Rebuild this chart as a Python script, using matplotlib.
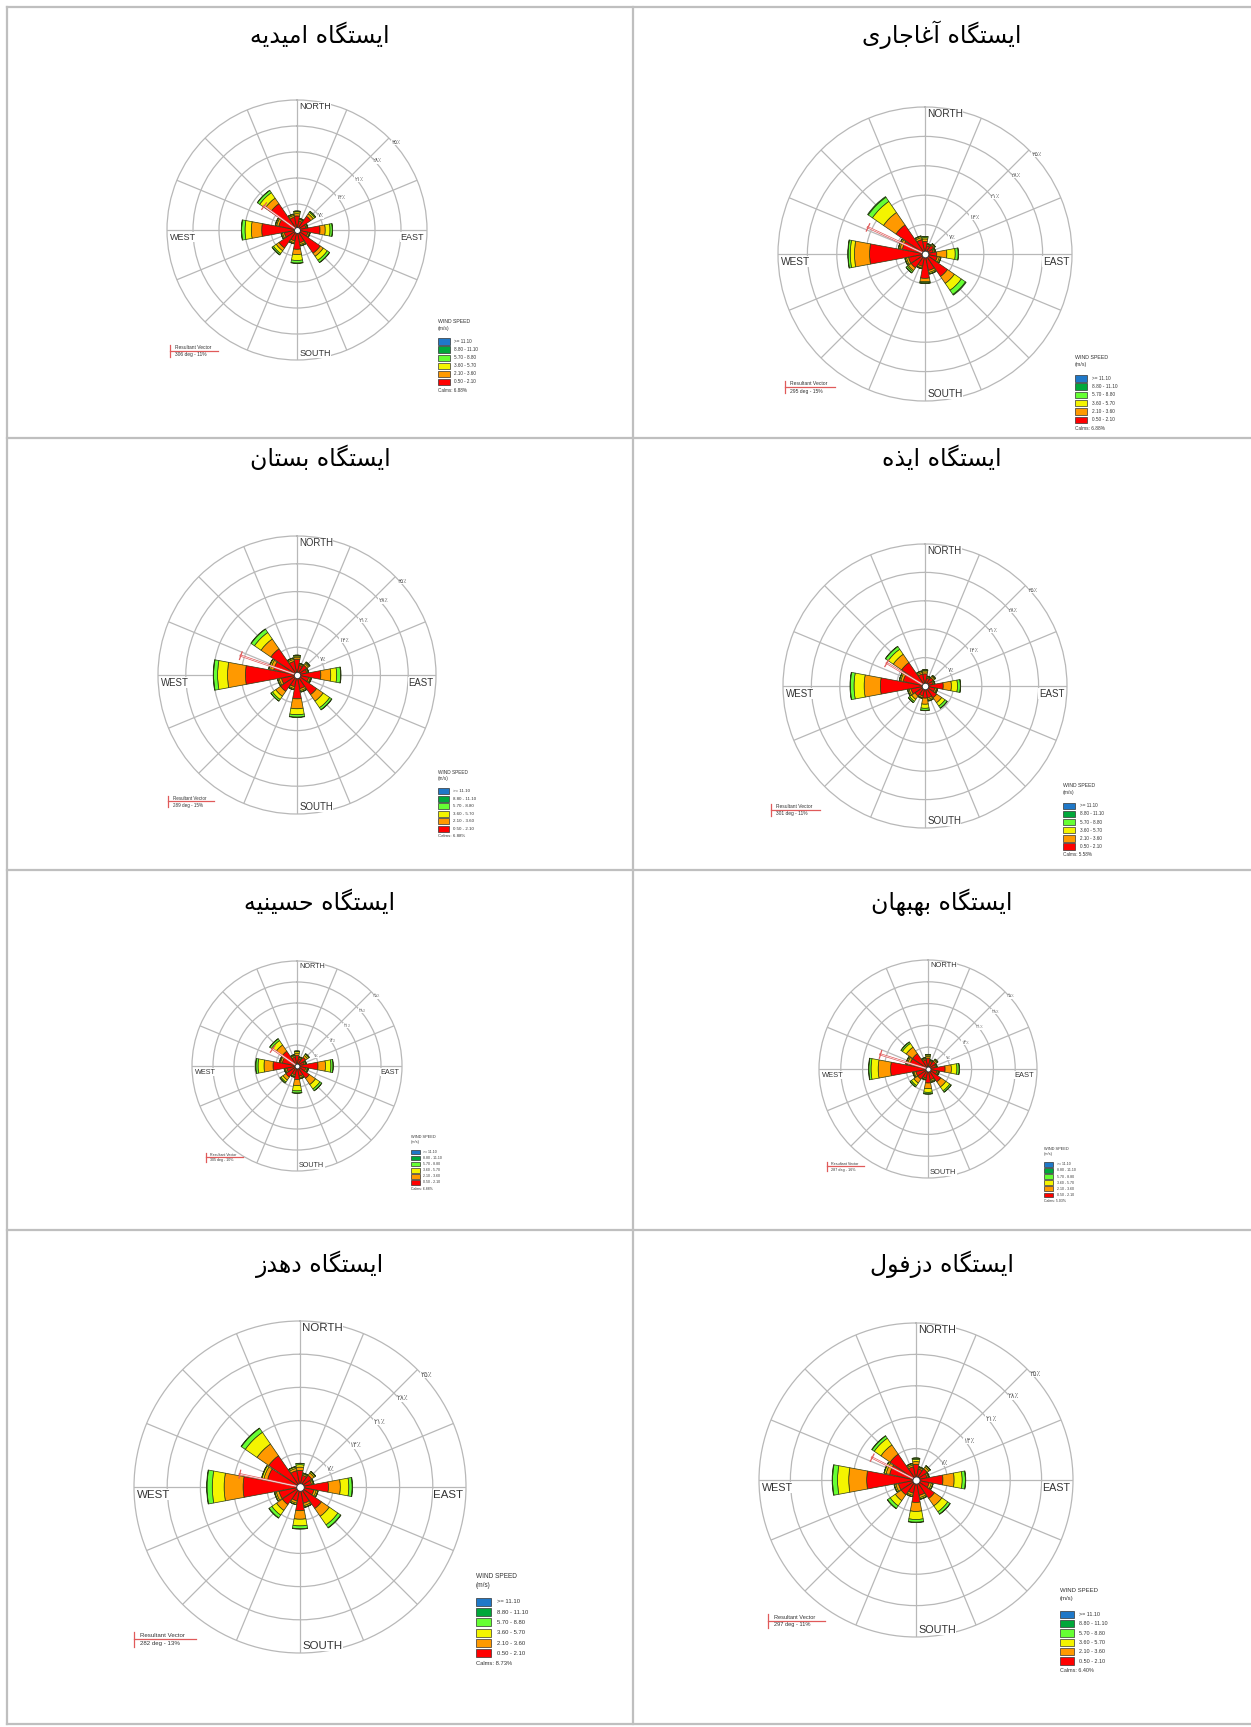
import numpy as np
import matplotlib
matplotlib.use('Agg')
import matplotlib.pyplot as plt
from matplotlib.patches import Rectangle
from matplotlib.lines import Line2D

W, H = 1251, 1727

# station names (read right-to-left, row by row)
stations = ['آغاجاری', 'امیدیه', 'ایذه', 'بستان', 'بهبهان', 'حسینیه', 'دزفول', 'دهدز']

directions = ['N', 'NNE', 'NE', 'ENE', 'E', 'ESE', 'SE', 'SSE',
              'S', 'SSW', 'SW', 'WSW', 'W', 'WNW', 'NW', 'NNW']
speed_classes = ['0.50 - 2.10', '2.10 - 3.60', '3.60 - 5.70', '5.70 - 8.80', '8.80 - 11.10', '>= 11.10']

# frequency (%) per direction: [0.5-2.1, 2.1-3.6, 3.6-5.7, 5.7-8.8, 8.8-11.1]
aghajari = [[3.0, 0.6, 0.3, 0.3, 0.0], [2.0, 0.3, 0.2, 0.0, 0.0], [2.5, 0.3, 0.2, 0.0, 0.0], [2.0, 0.3, 0.2, 0.1, 0.0],
            [2.8, 2.4, 2.0, 0.7, 0.1], [3.0, 0.5, 0.3, 0.1, 0.0], [6.5, 2.0, 2.0, 1.2, 0.2], [4.0, 0.5, 0.3, 0.1, 0.0],
            [5.8, 0.8, 0.2, 0.2, 0.0], [3.0, 0.4, 0.2, 0.0, 0.0], [4.0, 0.8, 0.3, 0.4, 0.0], [4.0, 0.5, 0.3, 0.1, 0.0],
            [13.2, 3.6, 1.0, 0.5, 0.1], [5.5, 0.6, 0.3, 0.1, 0.0], [8.4, 3.6, 3.2, 1.2, 0.2], [3.5, 0.5, 0.3, 0.1, 0.0]]
omidiyeh = [[3.8, 0.6, 0.5, 0.2, 0.0], [2.5, 0.4, 0.2, 0.1, 0.0], [4.5, 0.8, 0.5, 0.3, 0.0], [2.5, 0.3, 0.2, 0.0, 0.0],
            [6.2, 1.4, 1.3, 0.6, 0.1], [3.0, 0.4, 0.2, 0.0, 0.0], [7.6, 1.0, 1.3, 0.7, 0.1], [3.5, 0.5, 0.3, 0.1, 0.0],
            [5.2, 1.4, 1.6, 0.7, 0.1], [3.0, 0.5, 0.3, 0.0, 0.0], [5.9, 0.9, 0.9, 0.4, 0.1], [3.5, 0.5, 0.3, 0.1, 0.0],
            [9.5, 2.8, 1.7, 0.9, 0.1], [5.0, 0.6, 0.3, 0.1, 0.0], [8.6, 1.8, 1.8, 0.7, 0.1], [3.5, 0.5, 0.3, 0.1, 0.0]]
izeh = [[3.0, 0.5, 0.3, 0.2, 0.0], [2.0, 0.3, 0.2, 0.0, 0.0], [2.5, 0.4, 0.2, 0.1, 0.0], [2.0, 0.3, 0.2, 0.0, 0.0],
        [4.5, 2.0, 1.5, 0.7, 0.1], [2.5, 0.4, 0.2, 0.1, 0.0], [3.5, 1.5, 1.0, 0.6, 0.1], [3.0, 0.4, 0.3, 0.1, 0.0],
        [3.0, 1.5, 1.0, 0.5, 0.1], [2.5, 0.4, 0.2, 0.0, 0.0], [3.0, 1.0, 0.6, 0.4, 0.0], [3.5, 0.5, 0.3, 0.1, 0.0],
        [11.0, 4.0, 2.5, 0.9, 0.1], [5.5, 0.6, 0.3, 0.1, 0.0], [7.0, 2.5, 1.5, 0.8, 0.1], [3.0, 0.4, 0.3, 0.1, 0.0]]
bostan = [[4.0, 0.5, 0.3, 0.2, 0.0], [2.5, 0.3, 0.2, 0.0, 0.0], [3.0, 0.5, 0.3, 0.2, 0.0], [2.5, 0.3, 0.2, 0.0, 0.0],
          [6.0, 2.5, 1.5, 1.0, 0.1], [3.0, 0.4, 0.2, 0.1, 0.0], [6.0, 2.0, 2.0, 0.6, 0.1], [3.5, 0.5, 0.3, 0.1, 0.0],
          [6.0, 2.5, 1.5, 0.6, 0.1], [3.0, 0.5, 0.3, 0.0, 0.0], [5.0, 1.5, 1.0, 0.5, 0.0], [4.0, 0.6, 0.3, 0.1, 0.0],
          [13.0, 4.5, 2.5, 1.0, 0.1], [6.0, 0.8, 0.4, 0.1, 0.0], [8.0, 3.0, 2.0, 1.0, 0.1], [3.5, 0.5, 0.3, 0.1, 0.0]]
behbahan = [[3.5, 0.6, 0.4, 0.2, 0.0], [2.5, 0.3, 0.2, 0.0, 0.0], [3.0, 0.5, 0.3, 0.1, 0.0], [2.5, 0.3, 0.2, 0.0, 0.0],
            [5.5, 2.0, 1.8, 0.7, 0.1], [3.0, 0.4, 0.2, 0.1, 0.0], [5.0, 2.0, 1.5, 0.5, 0.1], [3.5, 0.5, 0.3, 0.1, 0.0],
            [4.5, 1.8, 1.2, 0.5, 0.1], [3.0, 0.4, 0.2, 0.0, 0.0], [4.0, 1.5, 1.0, 0.5, 0.0], [4.0, 0.6, 0.3, 0.1, 0.0],
            [12.0, 4.0, 2.3, 0.7, 0.1], [6.0, 0.8, 0.4, 0.1, 0.0], [6.0, 2.5, 1.5, 0.5, 0.1], [3.0, 0.4, 0.3, 0.1, 0.0]]
hosseinieh = [[3.5, 0.8, 0.5, 0.2, 0.0], [2.5, 0.4, 0.2, 0.0, 0.0], [3.5, 0.8, 0.5, 0.2, 0.0], [2.5, 0.4, 0.2, 0.1, 0.0],
              [7.0, 2.5, 1.8, 0.7, 0.1], [3.0, 0.5, 0.3, 0.1, 0.0], [5.0, 2.5, 1.8, 0.7, 0.1], [3.5, 0.5, 0.3, 0.1, 0.0],
              [4.5, 2.0, 1.8, 0.7, 0.1], [3.0, 0.5, 0.3, 0.0, 0.0], [4.5, 1.2, 0.8, 0.4, 0.0], [3.5, 0.5, 0.3, 0.1, 0.0],
              [8.0, 3.0, 2.0, 0.7, 0.1], [5.0, 0.6, 0.3, 0.1, 0.0], [6.0, 2.5, 1.8, 0.7, 0.1], [3.0, 0.5, 0.3, 0.1, 0.0]]
dezful = [[3.5, 0.6, 0.5, 0.3, 0.0], [2.5, 0.3, 0.2, 0.0, 0.0], [3.0, 0.5, 0.3, 0.1, 0.0], [2.5, 0.3, 0.2, 0.0, 0.0],
          [6.0, 2.5, 1.8, 0.7, 0.1], [3.0, 0.5, 0.3, 0.1, 0.0], [5.0, 2.0, 1.6, 0.6, 0.1], [3.5, 0.5, 0.3, 0.1, 0.0],
          [5.0, 2.0, 1.8, 0.6, 0.1], [3.0, 0.5, 0.3, 0.0, 0.0], [4.0, 1.6, 1.4, 0.7, 0.1], [4.0, 0.6, 0.3, 0.1, 0.0],
          [11.0, 4.0, 2.5, 1.1, 0.1], [6.0, 0.8, 0.4, 0.1, 0.0], [7.0, 2.5, 1.8, 0.6, 0.1], [3.0, 0.4, 0.3, 0.1, 0.0]]
dehdez = [[3.5, 0.7, 0.5, 0.3, 0.0], [2.5, 0.3, 0.2, 0.0, 0.0], [3.0, 0.6, 0.3, 0.1, 0.0], [2.5, 0.3, 0.2, 0.0, 0.0],
          [6.0, 2.5, 1.8, 0.7, 0.1], [3.0, 0.5, 0.3, 0.1, 0.0], [5.5, 2.0, 2.2, 0.7, 0.1], [3.5, 0.5, 0.3, 0.1, 0.0],
          [5.0, 1.8, 1.4, 0.6, 0.1], [3.0, 0.5, 0.3, 0.0, 0.0], [4.5, 1.5, 1.2, 0.7, 0.1], [4.5, 0.6, 0.3, 0.1, 0.0],
          [12.0, 4.0, 2.5, 1.1, 0.1], [7.0, 0.8, 0.4, 0.1, 0.0], [8.0, 3.0, 3.0, 1.0, 0.1], [3.5, 0.5, 0.3, 0.1, 0.0]]
rose_data = [aghajari, omidiyeh, izeh, bostan, behbahan, hosseinieh, dezful, dehdez]

vector_deg = [295, 306, 301, 289, 287, 305, 297, 282]
vector_pct = [15, 11, 11, 15, 16, 10, 11, 13]
calms = ['6.88%', '6.88%', '5.58%', '6.88%', '5.03%', '6.88%', '6.40%', '8.73%']

ring_values = [7, 14, 21, 28, 35]
ring_labels = ['۷٪', '۱۴٪', '۲۱٪', '۲۸٪', '۳۵٪']

petal_colors = ['#ff0000', '#ff9900', '#f4f400', '#66ff33', '#00a83a']
legend_colors = ['#1f78c8', '#00a83a', '#66ff33', '#f4f400', '#ff9900', '#ff0000']

# cell layout in pixels: center x, center y, radius, legend x, y, scale, vector x, y
layout = [
    (925, 254, 147, 1075, 355, 1.00, 785, 381),
    (297, 230, 130, 438, 319, 0.97, 170, 345),
    (925, 686, 142, 1063, 783, 0.98, 771, 804),
    (297, 675, 139, 438, 770, 0.91, 168, 796),
    (928, 1069, 109, 1044, 1147, 0.74, 827, 1162),
    (297, 1066, 105, 411, 1135, 0.73, 206, 1153),
    (916, 1480, 157, 1060, 1588, 1.13, 768, 1614),
    (300, 1487, 166, 476, 1573, 1.24, 134, 1632),
]
title_pos = [(942, 35), (320, 35), (942, 458), (320, 458), (942, 902), (320, 902), (942, 1264), (320, 1264)]

# simple Persian shaping: (isolated, final, initial, medial)
FORMS = {
    'ا': ('\uFE8D', '\uFE8E', None, None), 'آ': ('\uFE81', '\uFE82', None, None),
    'ب': ('\uFE8F', '\uFE90', '\uFE91', '\uFE92'), 'ت': ('\uFE95', '\uFE96', '\uFE97', '\uFE98'),
    'ج': ('\uFE9D', '\uFE9E', '\uFE9F', '\uFEA0'), 'ح': ('\uFEA1', '\uFEA2', '\uFEA3', '\uFEA4'),
    'د': ('\uFEA9', '\uFEAA', None, None), 'ذ': ('\uFEAB', '\uFEAC', None, None),
    'ر': ('\uFEAD', '\uFEAE', None, None), 'ز': ('\uFEAF', '\uFEB0', None, None),
    'س': ('\uFEB1', '\uFEB2', '\uFEB3', '\uFEB4'), 'غ': ('\uFECD', '\uFECE', '\uFECF', '\uFED0'),
    'ف': ('\uFED1', '\uFED2', '\uFED3', '\uFED4'), 'م': ('\uFEE1', '\uFEE2', '\uFEE3', '\uFEE4'),
    'ن': ('\uFEE5', '\uFEE6', '\uFEE7', '\uFEE8'), 'ه': ('\uFEE9', '\uFEEA', '\uFEEB', '\uFEEC'),
    'و': ('\uFEED', '\uFEEE', None, None), 'ی': ('\uFBFC', '\uFBFD', '\uFBFE', '\uFBFF'),
    'گ': ('\uFB92', '\uFB93', '\uFB94', '\uFB95'),
}


def shape_fa(text):
    out = []
    for i, ch in enumerate(text):
        if ch not in FORMS:
            out.append(ch)
            continue
        prev = text[i - 1] if i > 0 else ''
        nxt = text[i + 1] if i + 1 < len(text) else ''
        join_prev = prev in FORMS and FORMS[prev][2] is not None
        join_next = FORMS[ch][2] is not None and nxt in FORMS
        iso, fin, ini, med = FORMS[ch]
        if join_prev and join_next:
            out.append(med)
        elif join_prev:
            out.append(fin)
        elif join_next:
            out.append(ini)
        else:
            out.append(iso)
    return ''.join(reversed(out))


def fx(x):
    return x / W


def fy(y):
    return 1 - y / H


fig = plt.figure(figsize=(W / 100, H / 100), dpi=100)

# table grid
grid_kw = dict(color='#bfbfbf', lw=1.6, transform=fig.transFigure)
for y in [7, 438, 870, 1230, 1724]:
    fig.add_artist(Line2D([fx(7), 1], [fy(y), fy(y)], **grid_kw))
for x in [7, 633]:
    fig.add_artist(Line2D([fx(x), fx(x)], [fy(7), fy(1724)], **grid_kw))

label_font = 'Liberation Sans'
theta = np.deg2rad(np.arange(16) * 22.5)

for i, name in enumerate(stations):
    cx, cy, R, lx, ly, ls, vx, vy = layout[i]
    s = R / 147

    tx, ty = title_pos[i]
    fig.text(fx(tx), fy(ty), shape_fa('ایستگاه ' + name), ha='center', va='center',
             fontsize=17, family=['DejaVu Sans'])

    ax = fig.add_axes([fx(cx - R), fy(cy + R), 2 * R / W, 2 * R / H], projection='polar')
    ax.set_theta_zero_location('N')
    ax.set_theta_direction(-1)
    ax.set_ylim(0, 35)
    ax.set_xticks(np.deg2rad(np.arange(0, 360, 22.5)))
    ax.set_xticklabels([])
    ax.set_yticks(ring_values[:-1])
    ax.set_yticklabels([])
    ax.set_axisbelow(True)
    ax.grid(color='#b8b8b8', lw=0.9)
    ax.spines['polar'].set_color('#b8b8b8')
    ax.spines['polar'].set_linewidth(0.9)

    vals = np.array(rose_data[i]).T
    bottom = np.zeros(16)
    for k in range(5):
        ax.bar(theta, vals[k], width=np.deg2rad(21), bottom=bottom, color=petal_colors[k],
               edgecolor='#2b3b10', linewidth=0.5, zorder=2)
        bottom += vals[k]

    # resultant vector
    tv = np.deg2rad(vector_deg[i])
    L = vector_pct[i]
    ax.plot([tv, tv], [0, L], color='#e05a5a', lw=1.5, zorder=3)
    ax.plot([tv, tv], [0, L], color='white', lw=0.5, zorder=3)
    d = (4 * 35 / R) / L
    ax.plot([tv - d, tv + d], [L, L], color='#e05a5a', lw=0.9, zorder=3)

    ax.scatter([0], [0], s=24 * s ** 2, facecolor='white', edgecolor='#333333', linewidths=0.7, zorder=5)

    # compass labels
    cfs = 7.3 * s
    lab_kw = dict(textcoords='offset points', fontsize=cfs, family=label_font, color='#333333',
                  bbox=dict(facecolor='white', edgecolor='none', pad=0.3), zorder=6)
    ax.annotate('NORTH', xy=(0, 35), xytext=(1.5, -1.5), ha='left', va='top', **lab_kw)
    ax.annotate('SOUTH', xy=(np.pi, 35), xytext=(1.5, 1.5), ha='left', va='bottom', **lab_kw)
    ax.annotate('EAST', xy=(np.pi / 2, 35), xytext=(-2, -2), ha='right', va='top', **lab_kw)
    ax.annotate('WEST', xy=(1.5 * np.pi, 35), xytext=(2, -2), ha='left', va='top', **lab_kw)

    for rv, rl in zip(ring_values, ring_labels):
        ax.annotate(rl, xy=(np.pi / 4, rv), xytext=(2 * s, -1.5 * s), textcoords='offset points',
                    ha='left', va='top', fontsize=4.6 * s, family=['DejaVu Sans'], color='#555555',
                    bbox=dict(facecolor='white', edgecolor='none', pad=0.2), zorder=6)

    # wind speed legend
    lfs = 3.8 * ls
    fig.text(fx(lx), fy(ly), 'WIND SPEED', ha='left', va='top', fontsize=lfs, family=label_font, color='#333333')
    fig.text(fx(lx), fy(ly + 7 * ls), '(m/s)', ha='left', va='top', fontsize=lfs, family=label_font, color='#333333')
    labels = list(reversed(speed_classes))
    for j in range(6):
        by = ly + 20 * ls + j * 8.3 * ls
        fig.add_artist(Rectangle((fx(lx), fy(by + 6.5 * ls)), 12 * ls / W, 6.5 * ls / H, transform=fig.transFigure,
                                 facecolor=legend_colors[j], edgecolor='#333333', lw=0.5))
        fig.text(fx(lx + 17 * ls), fy(by + 3.3 * ls), labels[j], ha='left', va='center', fontsize=lfs * 0.9,
                 family=label_font, color='#333333')
    fig.text(fx(lx), fy(ly + 20 * ls + 6 * 8.3 * ls + 1 * ls), 'Calms: ' + calms[i], ha='left', va='top',
             fontsize=lfs * 0.9, family=label_font, color='#333333')

    # resultant vector legend
    vs = ls
    fig.add_artist(Line2D([fx(vx), fx(vx + 50 * vs)], [fy(vy + 6 * vs)] * 2, color='#e05a5a', lw=0.9,
                          transform=fig.transFigure))
    fig.add_artist(Line2D([fx(vx), fx(vx)], [fy(vy), fy(vy + 12 * vs)], color='#e05a5a', lw=0.9,
                          transform=fig.transFigure))
    fig.text(fx(vx + 5 * vs), fy(vy + 5 * vs), 'Resultant Vector', ha='left', va='bottom', fontsize=3.6 * vs,
             family=label_font, color='#333333')
    fig.text(fx(vx + 5 * vs), fy(vy + 7.5 * vs), f'{vector_deg[i]} deg - {vector_pct[i]}%', ha='left', va='top',
             fontsize=3.6 * vs, family=label_font, color='#333333')

fig.savefig('out.png', dpi=100)
